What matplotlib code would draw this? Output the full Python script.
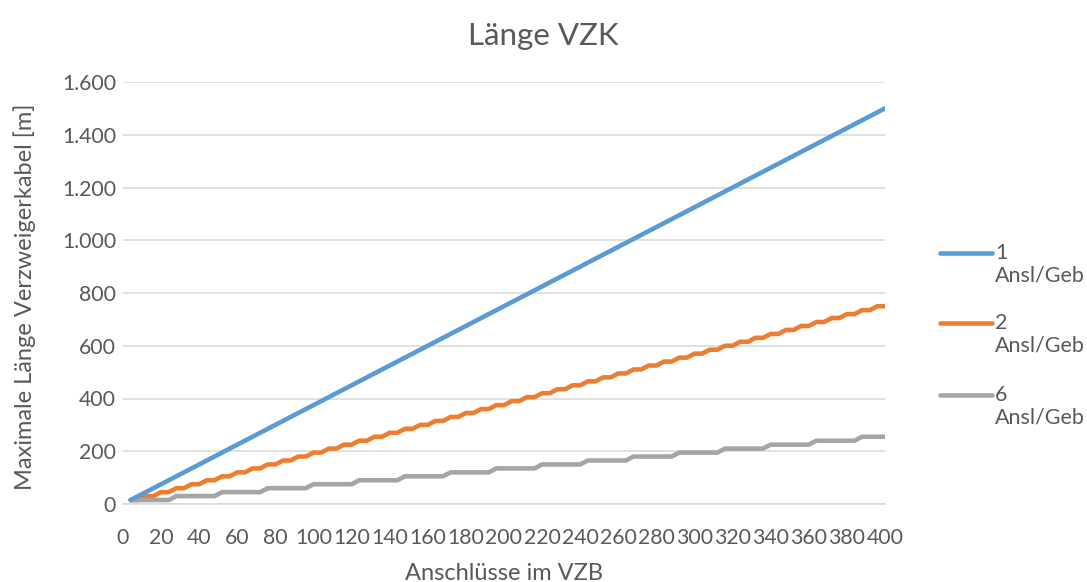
import matplotlib.pyplot as plt
from matplotlib.lines import Line2D
from matplotlib.ticker import FuncFormatter, MultipleLocator

# Anschlüsse im VZB (x values of the data points)
anschluesse = [
    4, 8, 12, 16, 20, 24, 28, 32, 36, 40,
    44, 48, 52, 56, 60, 64, 68, 72, 76, 80,
    84, 88, 92, 96, 100, 104, 108, 112, 116, 120,
    124, 128, 132, 136, 140, 144, 148, 152, 156, 160,
    164, 168, 172, 176, 180, 184, 188, 192, 196, 200,
    204, 208, 212, 216, 220, 224, 228, 232, 236, 240,
    244, 248, 252, 256, 260, 264, 268, 272, 276, 280,
    284, 288, 292, 296, 300, 304, 308, 312, 316, 320,
    324, 328, 332, 336, 340, 344, 348, 352, 356, 360,
    364, 368, 372, 376, 380, 384, 388, 392, 396, 400,
]

# Maximale Länge [m], 1 Anschluss pro Gebäude
laenge_1 = [
    15, 30, 45, 60, 75, 90, 105, 120, 135, 150,
    165, 180, 195, 210, 225, 240, 255, 270, 285, 300,
    315, 330, 345, 360, 375, 390, 405, 420, 435, 450,
    465, 480, 495, 510, 525, 540, 555, 570, 585, 600,
    615, 630, 645, 660, 675, 690, 705, 720, 735, 750,
    765, 780, 795, 810, 825, 840, 855, 870, 885, 900,
    915, 930, 945, 960, 975, 990, 1005, 1020, 1035, 1050,
    1065, 1080, 1095, 1110, 1125, 1140, 1155, 1170, 1185, 1200,
    1215, 1230, 1245, 1260, 1275, 1290, 1305, 1320, 1335, 1350,
    1365, 1380, 1395, 1410, 1425, 1440, 1455, 1470, 1485, 1500,
]

# 2 Anschlüsse pro Gebäude
laenge_2 = [
    15, 15, 30, 30, 45, 45, 60, 60, 75, 75,
    90, 90, 105, 105, 120, 120, 135, 135, 150, 150,
    165, 165, 180, 180, 195, 195, 210, 210, 225, 225,
    240, 240, 255, 255, 270, 270, 285, 285, 300, 300,
    315, 315, 330, 330, 345, 345, 360, 360, 375, 375,
    390, 390, 405, 405, 420, 420, 435, 435, 450, 450,
    465, 465, 480, 480, 495, 495, 510, 510, 525, 525,
    540, 540, 555, 555, 570, 570, 585, 585, 600, 600,
    615, 615, 630, 630, 645, 645, 660, 660, 675, 675,
    690, 690, 705, 705, 720, 720, 735, 735, 750, 750,
]

# 6 Anschlüsse pro Gebäude
laenge_6 = [
    15, 15, 15, 15, 15, 15, 30, 30, 30, 30,
    30, 30, 45, 45, 45, 45, 45, 45, 60, 60,
    60, 60, 60, 60, 75, 75, 75, 75, 75, 75,
    90, 90, 90, 90, 90, 90, 105, 105, 105, 105,
    105, 105, 120, 120, 120, 120, 120, 120, 135, 135,
    135, 135, 135, 135, 150, 150, 150, 150, 150, 150,
    165, 165, 165, 165, 165, 165, 180, 180, 180, 180,
    180, 180, 195, 195, 195, 195, 195, 195, 210, 210,
    210, 210, 210, 210, 225, 225, 225, 225, 225, 225,
    240, 240, 240, 240, 240, 240, 255, 255, 255, 255,
]

series_names = ["1", "2", "6"]
series_colors = ["#5B9BD5", "#ED7D31", "#A5A5A5"]

plt.rcParams['font.family'] = ['Lato', 'DejaVu Sans']
text_col = "#595959"
grid_col = "#D9D9D9"

fig = plt.figure(figsize=(10.87, 5.82), dpi=100)
ax = fig.add_axes([123 / 1087, 1 - 504 / 582, (885 - 123) / 1087, (504 - 82) / 582])

lines = []
for ys, name, col in zip([laenge_1, laenge_2, laenge_6], series_names, series_colors):
    ln, = ax.plot(anschluesse, ys, color=col, lw=3.3, solid_capstyle='round',
                  solid_joinstyle='round', zorder=3 if name == "1" else 2)
    lines.append(ln)

ax.set_xlim(0, 400)
ax.set_ylim(0, 1600)
ax.xaxis.set_major_locator(MultipleLocator(20))
ax.yaxis.set_major_locator(MultipleLocator(200))
ax.yaxis.set_major_formatter(FuncFormatter(lambda v, p: f"{v:,.0f}".replace(",", ".")))
ax.grid(axis='y', color=grid_col, lw=1.1)
ax.set_axisbelow(True)
for s in ['top', 'right', 'left']:
    ax.spines[s].set_visible(False)
ax.spines['bottom'].set_color(grid_col)
ax.spines['bottom'].set_linewidth(1.1)
ax.tick_params(length=0, colors=text_col, labelsize=15.3)
ax.tick_params(axis='x', pad=17)
ax.tick_params(axis='y', pad=5)

ax.set_xlabel("Anschlüsse im VZB", fontsize=17, color=text_col, labelpad=11)
fig.text(0.5, 1 - 36 / 582, "Länge VZK", fontsize=22.5, color=text_col,
         ha='center', va='center')
fig.text(25 / 1087, 1 - 297 / 582, "Maximale Länge Verzweigerkabel [m]", fontsize=17,
         color=text_col, rotation=90, ha='center', va='center')

# legend on the right, drawn by hand so the handle sits at the first text line
leg_y = [253, 323, 395]
for ln, name, yp in zip(lines, series_names, leg_y):
    fy = 1 - yp / 582
    fig.add_artist(Line2D([940 / 1087, 992 / 1087], [fy, fy], color=ln.get_color(),
                          lw=3.3, solid_capstyle='round', transform=fig.transFigure))
    fig.text(995 / 1087, fy, name, fontsize=15.5, color=text_col, va='center', ha='left')
    fig.text(995 / 1087, fy - 23 / 582, "Ansl/Geb", fontsize=15.5, color=text_col,
             va='center', ha='left')

fig.savefig("out.png", dpi=100)
